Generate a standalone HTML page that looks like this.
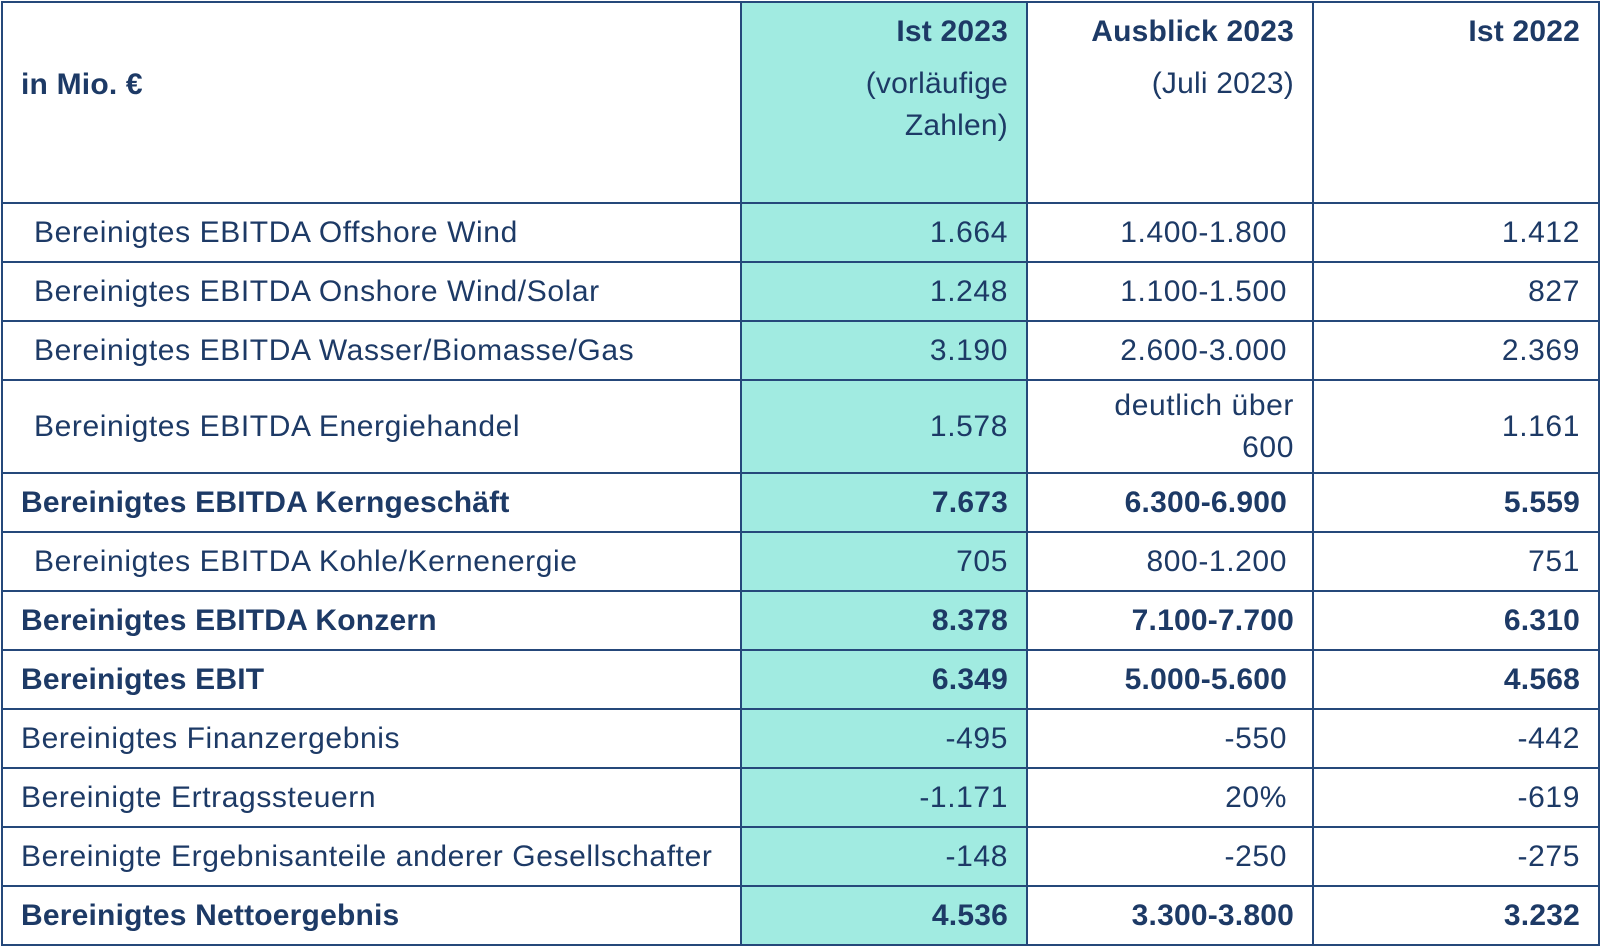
<!DOCTYPE html>
<html><head><meta charset="utf-8"><style>
html,body{margin:0;padding:0;background:#fff;width:1600px;height:945px;overflow:hidden}
table{position:absolute;left:1px;top:1px;border-collapse:collapse;table-layout:fixed;width:1597px;font-family:"Liberation Sans",sans-serif;color:#1d3a66;font-size:30px;letter-spacing:0.6px}
td{border:2px solid #25487a;padding:0 18px;white-space:nowrap;overflow:hidden}
td.n{text-align:right}
td.t{background:#a1ebe1}
td.i{padding-left:31px}
tr{height:59px}
.b td{font-weight:bold;letter-spacing:0.2px}
.h td{vertical-align:top;font-weight:bold;line-height:42px;padding-top:8px;letter-spacing:0.2px}
.h span{font-weight:normal;display:block;margin-top:10px}
</style></head><body>
<table>
<colgroup><col style="width:739px"><col style="width:286px"><col style="width:286px"><col style="width:286px"></colgroup>
<tr class="h" style="height:201px"><td style="vertical-align:middle;padding-bottom:44px">in Mio. €</td><td class="n t">Ist 2023<span>(vorläufige<br>Zahlen)</span></td><td class="n">Ausblick 2023<span>(Juli 2023)</span></td><td class="n">Ist 2022</td></tr>
<tr><td class="i">Bereinigtes EBITDA Offshore Wind</td><td class="n t">1.664</td><td class="n" style="padding-right:25px">1.400-1.800</td><td class="n">1.412</td></tr>
<tr><td class="i">Bereinigtes EBITDA Onshore Wind/Solar</td><td class="n t">1.248</td><td class="n" style="padding-right:25px">1.100-1.500</td><td class="n">827</td></tr>
<tr><td class="i">Bereinigtes EBITDA Wasser/Biomasse/Gas</td><td class="n t">3.190</td><td class="n" style="padding-right:25px">2.600-3.000</td><td class="n">2.369</td></tr>
<tr style="height:93px"><td class="i">Bereinigtes EBITDA Energiehandel</td><td class="n t">1.578</td><td class="n" style="padding-right:18px;line-height:42px">deutlich über<br>600</td><td class="n">1.161</td></tr>
<tr class="b"><td>Bereinigtes EBITDA Kerngeschäft</td><td class="n t">7.673</td><td class="n" style="padding-right:25px">6.300-6.900</td><td class="n">5.559</td></tr>
<tr><td class="i">Bereinigtes EBITDA Kohle/Kernenergie</td><td class="n t">705</td><td class="n" style="padding-right:25px">800-1.200</td><td class="n">751</td></tr>
<tr class="b"><td>Bereinigtes EBITDA Konzern</td><td class="n t">8.378</td><td class="n">7.100-7.700</td><td class="n">6.310</td></tr>
<tr class="b"><td>Bereinigtes EBIT</td><td class="n t">6.349</td><td class="n" style="padding-right:25px">5.000-5.600</td><td class="n">4.568</td></tr>
<tr><td>Bereinigtes Finanzergebnis</td><td class="n t">-495</td><td class="n" style="padding-right:25px">-550</td><td class="n">-442</td></tr>
<tr><td>Bereinigte Ertragssteuern</td><td class="n t">-1.171</td><td class="n" style="padding-right:25px">20%</td><td class="n">-619</td></tr>
<tr><td>Bereinigte Ergebnisanteile anderer Gesellschafter</td><td class="n t">-148</td><td class="n" style="padding-right:25px">-250</td><td class="n">-275</td></tr>
<tr class="b"><td>Bereinigtes Nettoergebnis</td><td class="n t">4.536</td><td class="n">3.300-3.800</td><td class="n">3.232</td></tr>
</table>
</body></html>
